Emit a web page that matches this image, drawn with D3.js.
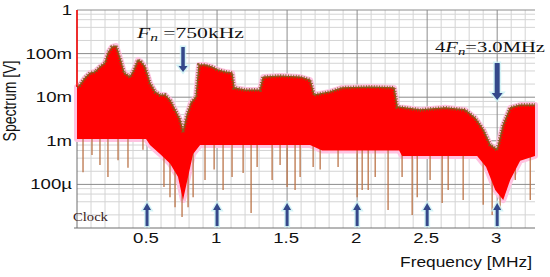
<!DOCTYPE html>
<html><head><meta charset="utf-8">
<script src="https://cdn.jsdelivr.net/npm/d3@7/dist/d3.min.js"></script>
<style>html,body{margin:0;padding:0;background:#fff;}svg{display:block;}</style>
</head><body>
<svg id="c" width="550" height="277"></svg>
<script>
// ---- data ----
const yTickValues = [1, 0.1, 0.01, 0.001, 0.0001];
const yTickLabels = ["1", "100m", "10m", "1m", "100\u00b5"];
const xTickValues = [0.5, 1, 1.5, 2, 2.5, 3];
const xTickLabels = ["0.5", "1", "1.5", "2", "2.5", "3"];
const clockFreqs = [0.5, 1, 1.5, 2, 2.5, 3];
// upper envelope of the spectrum: frequency [MHz], value [V]
const upperFreq = [0, 0.021, 0.057, 0.093, 0.129, 0.164, 0.2, 0.221, 0.25, 0.279, 0.307, 0.336, 0.379, 0.407, 0.436, 0.457, 0.486, 0.521, 0.557, 0.593, 0.629, 0.664, 0.7, 0.736, 0.757, 0.786, 0.814, 0.85, 0.871, 0.914, 0.964, 1.007, 1.057, 1.107, 1.121, 1.2, 1.307, 1.329, 1.45, 1.593, 1.664, 1.693, 1.807, 1.893, 2.093, 2.264, 2.286, 2.45, 2.629, 2.771, 2.843, 2.9, 2.95, 3.0, 3.043, 3.093, 3.164, 3.27];
const upperVal  = [0.0171, 0.019, 0.0275, 0.0359, 0.0379, 0.0493, 0.0609, 0.103, 0.142, 0.149, 0.079, 0.036, 0.029, 0.042, 0.0713, 0.064, 0.049, 0.021, 0.0132, 0.0112, 0.0112, 0.0086, 0.0051, 0.003, 0.0016, 0.0039, 0.0074, 0.0101, 0.0548, 0.055, 0.049, 0.042, 0.038, 0.0359, 0.0163, 0.0146, 0.0146, 0.029, 0.0306, 0.029, 0.0248, 0.0112, 0.0132, 0.0163, 0.0171, 0.0163, 0.006, 0.0051, 0.0057, 0.0051, 0.0033, 0.0018, 0.0008, 0.00062, 0.0023, 0.0057, 0.0066, 0.0066];
// lower edge of the dense body
const lowerFreq = [0, 0.493, 0.521, 0.593, 0.664, 0.721, 0.757, 0.793, 0.829, 0.879, 1.664, 1.75, 2.3, 2.321, 2.857, 2.921, 2.986, 3.043, 3.093, 3.164, 3.27];
const lowerVal  = [0.0011, 0.0011, 0.0008, 0.0005, 0.0003, 0.00015, 0.0000437, 0.00015, 0.0005, 0.0008, 0.0008, 0.0006, 0.0006, 0.00045, 0.00045, 0.00025, 0.0000744, 0.0000437, 0.000126, 0.00035, 0.00045];
// deep downward spikes: frequency [MHz], minimum [V]
const spikeFreq = [0.043, 0.107, 0.164, 0.221, 0.293, 0.364, 0.471, 0.621, 0.664, 0.7, 0.75, 0.793, 0.829, 0.914, 0.979, 1.043, 1.107, 1.186, 1.243, 1.286, 1.393, 1.45, 1.5, 1.557, 1.593, 1.686, 1.736, 1.864, 2.0, 2.036, 2.079, 2.129, 2.221, 2.321, 2.393, 2.429, 2.521, 2.607, 2.65, 2.757, 2.9, 2.964, 3.021, 3.129, 3.236];
const spikeVal  = [0.00019, 0.00047, 0.00028, 0.000148, 0.00036, 0.00024, 0.00062, 0.000087, 0.000051, 0.00003, 0.0000179, 0.00003, 0.000051, 0.000126, 0.00022, 0.0000744, 0.000148, 0.000182, 0.0000221, 0.00025, 0.000126, 0.00028, 0.000087, 0.0000744, 0.000148, 0.00025, 0.00022, 0.00025, 0.000051, 0.0000744, 0.0000744, 0.000148, 0.0000259, 0.000148, 0.00002, 0.000051, 0.000126, 0.0000374, 0.0000744, 0.0000437, 0.0000343, 0.00002, 0.0000259, 0.000126, 0.0000437];

// ---- layout ----
const svg = d3.select("#c");
const L = 77, R = 535, T = 10, B = 228;
const x = d3.scaleLinear().domain([0, 3.27]).range([L, R]);
const y = d3.scaleLog().domain([1e-5, 1]).range([B, T]);

function fit(sel, tx, ty, width, anchor) {
  const w = sel.node().getComputedTextLength();
  const s = width / w;
  sel.attr("text-anchor", anchor || "start")
     .attr("transform", `translate(${tx},${ty}) scale(${s},1)`);
}

// grid
const g = svg.append("g");
const minorX = d3.range(1, 33).map(i => i / 10).filter(v => Math.abs(v * 2 - Math.round(v * 2)) > 1e-6);
g.selectAll(".mx").data(minorX).join("line")
  .attr("x1", d => x(d)).attr("x2", d => x(d)).attr("y1", T).attr("y2", B)
  .attr("stroke", "#d4d4d4").attr("stroke-width", 1);
const minorY = [];
for (let e = -5; e < 0; e++) [2, 4, 6, 8].forEach(m => minorY.push(m * Math.pow(10, e)));
g.selectAll(".my").data(minorY).join("line")
  .attr("x1", L).attr("x2", R).attr("y1", d => y(d)).attr("y2", d => y(d))
  .attr("stroke", "#d4d4d4").attr("stroke-width", 1);
g.selectAll(".Mx").data(xTickValues).join("line")
  .attr("x1", d => x(d)).attr("x2", d => x(d)).attr("y1", T).attr("y2", B)
  .attr("stroke", "#8c8c8c").attr("stroke-width", 1);
g.selectAll(".My").data(yTickValues).join("line")
  .attr("x1", L).attr("x2", R).attr("y1", d => y(d)).attr("y2", d => y(d))
  .attr("stroke", "#8c8c8c").attr("stroke-width", 1);
g.append("line").attr("x1", L).attr("x2", L).attr("y1", T).attr("y2", B).attr("stroke", "#6e6e6e");
g.append("line").attr("x1", L - 3).attr("x2", R).attr("y1", B).attr("y2", B).attr("stroke", "#6e6e6e");

// spectrum
const lowerAt = d3.scaleLinear().domain(lowerFreq).range(lowerVal.map(v => Math.log10(v)));
const upperPts = upperFreq.map((f, i) => [x(f), y(upperVal[i])]);
const lowerPts = lowerFreq.map((f, i) => [x(f), y(lowerVal[i])]).reverse();
const poly = d3.line()(upperPts.concat(lowerPts)) + "Z";
const topLine = d3.line()(upperPts);

const spec = svg.append("g");
spec.append("path").attr("d", poly).attr("fill", "#ffd0e8").attr("stroke", "#ffc2e0")
  .attr("stroke-width", 6).attr("stroke-linejoin", "round");
spec.selectAll(".sp").data(spikeFreq).join("line")
  .attr("x1", d => x(d)).attr("x2", d => x(d))
  .attr("y1", d => y(Math.pow(10, lowerAt(d))) - 6)
  .attr("y2", (d, i) => y(spikeVal[i]))
  .attr("stroke", "#bb7448").attr("stroke-width", 1.3);
spec.append("path").attr("d", poly).attr("fill", "#ff0000");
// dense-trace texture: fine vertical hairs along the top edge
spec.append("path").attr("d", topLine).attr("fill", "none").attr("stroke", "#7f5a1c")
  .attr("stroke-width", 4).attr("stroke-dasharray", "1 1.6").attr("opacity", 0.85);
spec.append("path").attr("d", topLine).attr("fill", "none").attr("stroke", "#8a5a1c").attr("stroke-width", 1.2);
spec.append("line").attr("x1", x(0)).attr("x2", x(0)).attr("y1", y(1)).attr("y2", y(upperVal[0]))
  .attr("stroke", "#ff0000").attr("stroke-width", 1.5);

// arrows
const navy = "#34488a";
function arrow(cx, y0, y1, w, hw, hl) {
  const dir = y1 > y0 ? 1 : -1;
  const yb = y1 - dir * hl;
  const pts = [[cx - w / 2, y0], [cx + w / 2, y0], [cx + w / 2, yb], [cx + hw / 2, yb], [cx, y1],
               [cx - hw / 2, yb], [cx - w / 2, yb]];
  svg.append("path").attr("d", d3.line()(pts) + "Z").attr("fill", "none").attr("stroke", "#c8f0f4")
    .attr("stroke-width", 3).attr("opacity", 0.8);
  svg.append("path").attr("d", d3.line()(pts) + "Z").attr("fill", navy);
}
arrow(x(0.757), 47, 72, 3.5, 9, 6);
arrow(x(3.0), 63, 100, 5, 11, 7);
clockFreqs.forEach(f => arrow(x(f), 226, 203, 3, 8, 7));

// tick labels
yTickValues.forEach((v, i) => {
  svg.append("text").attr("font-family", "Liberation Sans, Arial, sans-serif")
    .attr("font-size", 14).attr("fill", "#111").attr("dy", "0.36em").attr("text-anchor", "end")
    .attr("transform", `translate(72,${y(v)}) scale(1.33,1)`).text(yTickLabels[i]);
});
xTickValues.forEach((v, i) => {
  svg.append("text").attr("font-family", "Liberation Sans, Arial, sans-serif")
    .attr("font-size", 14).attr("fill", "#111").attr("text-anchor", "middle")
    .attr("transform", `translate(${x(v) - 1},243) scale(1.33,1)`).text(xTickLabels[i]);
});

// axis titles
const xt = svg.append("text").attr("font-family", "Liberation Sans, Arial, sans-serif")
  .attr("font-size", 15).attr("fill", "#111").text("Frequency [MHz]");
fit(xt, 532, 267, 132, "end");
svg.append("text").attr("font-family", "Liberation Sans, Arial, sans-serif")
  .attr("font-size", 14).attr("fill", "#111").attr("text-anchor", "middle")
  .attr("transform", "translate(16,101) scale(1.25,1) rotate(-90)").text("Spectrum [V]");

// annotations
const fn = svg.append("text").attr("font-family", "Liberation Serif, Times New Roman, serif")
  .attr("font-size", 14).attr("fill", "#111");
fn.append("tspan").attr("font-style", "italic").text("F");
fn.append("tspan").attr("font-style", "italic").attr("font-size", 10).attr("dy", 3).text("n");
fn.append("tspan").attr("dy", -3).text(" =750kHz");
fit(fn, 137, 38, 107, "start");

const f4 = svg.append("text").attr("font-family", "Liberation Serif, Times New Roman, serif")
  .attr("font-size", 14).attr("fill", "#111");
f4.append("tspan").text("4");
f4.append("tspan").attr("font-style", "italic").text("F");
f4.append("tspan").attr("font-style", "italic").attr("font-size", 10).attr("dy", 3).text("n");
f4.append("tspan").attr("dy", -3).text("=3.0MHz");
fit(f4, 435, 52, 110, "start");

const ck = svg.append("text").attr("font-family", "Liberation Serif, Times New Roman, serif")
  .attr("font-size", 13).attr("fill", "#3a1a1a").text("Clock");
fit(ck, 73, 221, 35, "start");
</script>
</body></html>
